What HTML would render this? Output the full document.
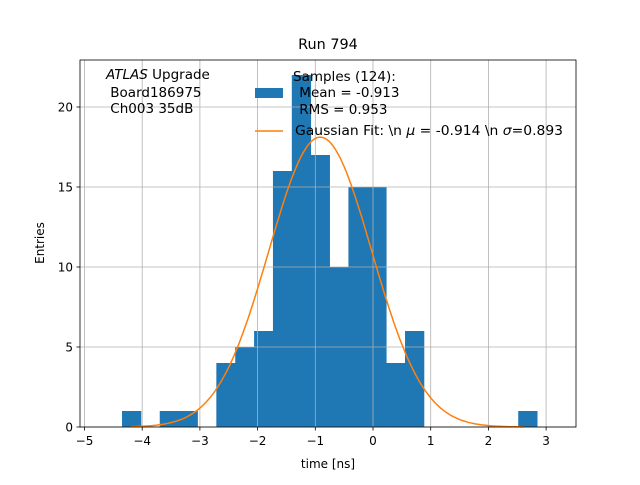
<!DOCTYPE html>
<html><head><meta charset="utf-8"><style>
body{margin:0;background:#fff}
svg text{font-family:"DejaVu Sans","Liberation Sans",sans-serif;fill:#000;white-space:pre}
</style></head><body>
<svg id="c" width="640" height="480">
<rect width="640" height="480" fill="#fff"/>
<g id="bars"></g>
<g id="grid"></g>
<path id="fit" fill="none" stroke="#ff7f0e" stroke-width="1.5"/>
<rect x="80" y="60" width="496" height="367" fill="none" stroke="#000" stroke-width="0.8"/>
<g id="ticks"></g>
<text x="328" y="49" font-size="14.4" text-anchor="middle">Run 794</text>
<text x="328" y="468" font-size="12" text-anchor="middle">time [ns]</text>
<text transform="translate(44,243) rotate(-90)" font-size="12" text-anchor="middle">Entries</text>
<g font-size="13.5">
<text x="106" y="79"><tspan font-style="italic">ATLAS</tspan> Upgrade</text>
<text x="106" y="97" xml:space="preserve"> Board186975</text>
<text x="106" y="113" xml:space="preserve"> Ch003 35dB</text>
</g>
<g font-size="13.5">
<text x="293" y="81">Samples (124):</text>
<rect x="255" y="88" width="28" height="10" fill="#1f77b4"/>
<text x="295" y="97" xml:space="preserve"> Mean = -0.913</text>
<text x="295" y="114" xml:space="preserve"> RMS = 0.953</text>
<line x1="255" y1="131" x2="283" y2="131" stroke="#ff7f0e" stroke-width="1.5"/>
<text x="295" y="135" textLength="268" lengthAdjust="spacingAndGlyphs">Gaussian Fit: \n <tspan font-style="italic">μ</tspan> = -0.914 \n <tspan font-style="italic">σ</tspan>=0.893</text>
</g>
</svg>
<script>
const binStart=-4.35;
const binWidth=0.327;
const counts=[1,0,1,1,0,4,5,6,16,22,17,10,15,15,4,6,0,0,0,0,0,1];
const xTicks=[-5,-4,-3,-2,-1,0,1,2,3];
const yTicks=[0,5,10,15,20];
const fitMu=-0.914, fitSigma=0.893, fitN=124;
const fitRange=[-4.2,2.6];
const X=v=>373+v*57.7, Y=v=>427-v*16;
const ns='http://www.w3.org/2000/svg';
function mk(t,a,p){const e=document.createElementNS(ns,t);for(const k in a)e.setAttribute(k,a[k]);p.appendChild(e);return e;}
const grid=document.getElementById('grid'),ticks=document.getElementById('ticks'),bars=document.getElementById('bars');
xTicks.forEach(t=>{
 const g=mk('line',{x1:X(t),x2:X(t),y1:60,y2:427,stroke:'#b0b0b0','stroke-width':0.8},grid);
 
 
 const k=mk('line',{x1:X(t),x2:X(t),y1:427,y2:430.5,stroke:'#000','stroke-width':0.8},ticks);
 
 
 const l=mk('text',{x:X(t),y:445,'font-size':12,'text-anchor':'middle'},ticks);l.textContent=String(t).replace('-','−');
 
 
});
yTicks.forEach(t=>{
 const g=mk('line',{x1:80,x2:576,y1:Y(t),y2:Y(t),stroke:'#b0b0b0','stroke-width':0.8},grid);
 
 
 const k=mk('line',{x1:76.5,x2:80,y1:Y(t),y2:Y(t),stroke:'#000','stroke-width':0.8},ticks);
 
 
 const l=mk('text',{x:73,y:Y(t)+4.5,'font-size':12,'text-anchor':'end'},ticks);l.textContent=t;
 
 
});
counts.forEach((c,i)=>{
 if(!c)return;
 const x0=X(binStart+i*binWidth),x1=X(binStart+(i+1)*binWidth);
 const r=mk('rect',{x:x0,y:Y(c),width:x1-x0+0.4,height:Y(0)-Y(c),fill:'#1f77b4'},bars);
 
 
});
const amp=fitN*binWidth/(fitSigma*Math.sqrt(2*Math.PI));
let d='';
for(let i=0;i<=200;i++){const v=fitRange[0]+(fitRange[1]-fitRange[0])*i/200;
 const yv=amp*Math.exp(-0.5*((v-fitMu)/fitSigma)**2);d+=(i?'L':'M')+X(v).toFixed(1)+' '+Y(yv).toFixed(1);}
document.getElementById('fit').setAttribute('d',d);
</script>
</body></html>
